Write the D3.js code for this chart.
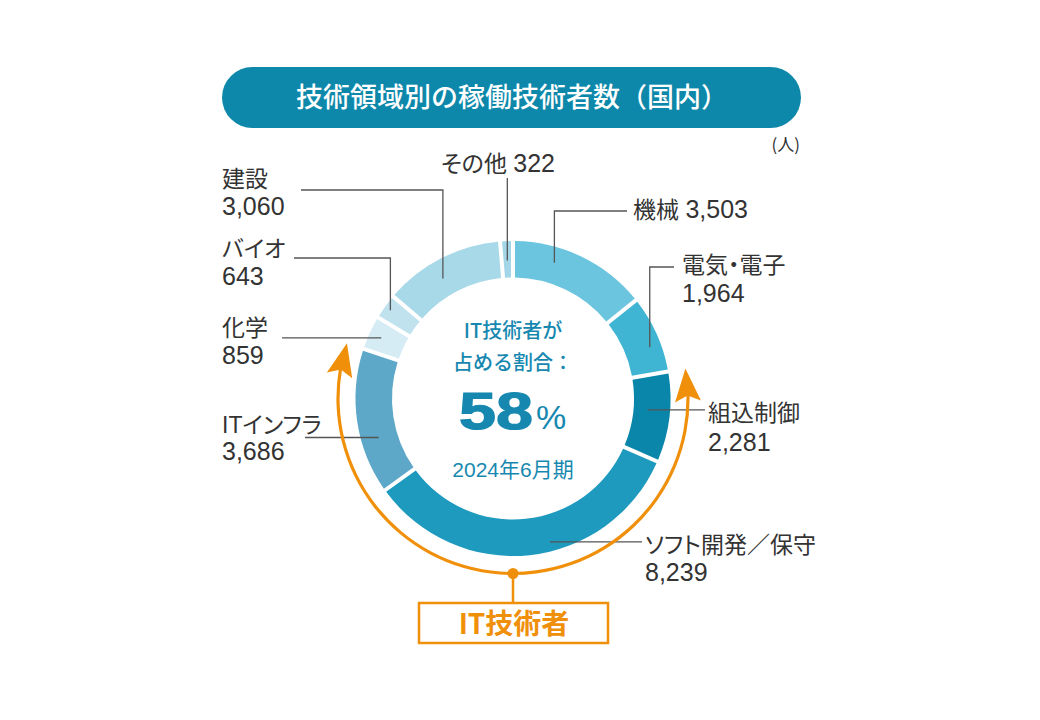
<!DOCTYPE html>
<html><head><meta charset="utf-8">
<script src="https://cdn.jsdelivr.net/npm/d3@7"></script>
<style>
html,body{margin:0;padding:0;background:#fff;}
svg{display:block;}
text{font-family:"Liberation Sans","Noto Sans CJK JP",sans-serif;}
.lbl{font-feature-settings:"palt";}
</style></head>
<body>
<svg id="chart" width="1040" height="720"></svg>
<script>
// ---- data ----
const categories = ["機械","電気・電子","組込制御","ソフト開発／保守","ITインフラ","化学","バイオ","建設","その他"];
const values = [3503,1964,2281,8239,3686,859,643,3060,322];
const itCategories = ["組込制御","ソフト開発／保守","ITインフラ"];
const title = "技術領域別の稼働技術者数（国内）";
const unitLabel = "(人)";
const centerLines = ["IT技術者が","占める割合："];
const centerPeriod = "2024年6月期";
const itLabel = "IT技術者";

// ---- styles ----
const segColors = ["#6cc5df","#40b5d3","#0a86aa","#1f9abf","#5da8c8","#d5ecf5","#bfe2ee","#a8d9e9","#a3d6e7"];
const color = d3.scaleOrdinal(categories, segColors);
const teal = "#0e88aa", textTeal = "#1688b0", orange = "#f0900a", labelColor = "#333", leaderColor = "#555";

const svg = d3.select("#chart");
const cx = 513, cy = 398.5, rOuter = 157.5, rInner = 121, rOrange = 175;
const polar = (a, r) => [cx + r * Math.sin(a), cy - r * Math.cos(a)];

const data = categories.map((c, i) => ({cat: c, value: values[i]}));
const total = d3.sum(values);
const itTotal = d3.sum(data.filter(d => itCategories.includes(d.cat)), d => d.value);

// title pill
svg.append("rect").attr("x", 222).attr("y", 67).attr("width", 579).attr("height", 61)
  .attr("rx", 30.5).attr("fill", teal);
svg.append("text").attr("x", 512).attr("y", 107).attr("text-anchor", "middle")
  .attr("fill", "#fff").attr("font-size", 27).attr("font-weight", 500)
  .style("font-family", "'Noto Sans CJK JP',sans-serif").text(title);
svg.append("text").attr("x", 800).attr("y", 151).attr("text-anchor", "end")
  .attr("fill", labelColor).attr("font-size", 17)
  .style("font-family", "'Noto Sans CJK JP',sans-serif").text(unitLabel);

// donut
const pie = d3.pie().sort(null).value(d => d.value).startAngle(0).endAngle(2 * Math.PI);
const arcs = pie(data);
const arcGen = d3.arc().innerRadius(rInner).outerRadius(rOuter).padAngle(0.02);
const g = svg.append("g").attr("transform", `translate(${cx},${cy})`);
g.selectAll("path.seg").data(arcs).join("path").attr("class", "seg")
  .attr("d", arcGen).attr("fill", d => color(d.data.cat));

// leader lines & labels (layout only)
const layout = {
  "その他":        {t:0.5,  r:138, type:"v",  y:178,            lx:498, anchor:"middle", ly:[172], one:true},
  "機械":          {t:0.33, r:142, type:"vh", y:211, x:627,     lx:633, ly:[218], one:true},
  "電気・電子":    {t:0.63, r:146, type:"vh", y:267, x:674,     lx:682, ly:[273, 302]},
  "組込制御":      {t:0.44, r:135, type:"h",  x:705,            lx:708, ly:[421, 451]},
  "ソフト開発／保守":{t:0.43, r:148, type:"h", x:642,            lx:645, ly:[553, 581]},
  "ITインフラ":    {t:0.36, r:140, type:"h",  x:305,            lx:222, ly:[433, 460]},
  "化学":          {t:0.5,  r:145, type:"h",  x:282,            lx:222, ly:[336, 364]},
  "バイオ":        {t:0.5,  r:151, type:"vh", y:258, x:294,     lx:222, ly:[257, 285]},
  "建設":          {t:0.43, r:139, type:"vh", y:190, x:301,     lx:222, ly:[187, 215]}
};
const fmt = d3.format(",");
const nameSize = 23, numSize = 25;
arcs.forEach(a => {
  const L = layout[a.data.cat];
  const ang = a.startAngle + (a.endAngle - a.startAngle) * L.t;
  const p = polar(ang, L.r);
  let pts;
  if (L.type === "v") pts = [p, [p[0], L.y]];
  else if (L.type === "vh") pts = [p, [p[0], L.y], [L.x, L.y]];
  else pts = [p, [L.x, p[1]]];
  svg.append("path").attr("d", d3.line()(pts)).attr("fill", "none")
    .attr("stroke", leaderColor).attr("stroke-width", 1.3);
  if (L.one) {
    const t = svg.append("text").attr("class", "lbl").attr("x", L.lx).attr("y", L.ly[0])
      .attr("text-anchor", L.anchor || "start").attr("fill", labelColor);
    t.append("tspan").attr("font-size", nameSize).text(a.data.cat + " ");
    t.append("tspan").attr("font-size", numSize).text(fmt(a.data.value));
  } else {
    svg.append("text").attr("class", "lbl").attr("x", L.lx).attr("y", L.ly[0])
      .attr("fill", labelColor).attr("font-size", nameSize).text(a.data.cat);
    svg.append("text").attr("x", L.lx).attr("y", L.ly[1])
      .attr("fill", labelColor).attr("font-size", numSize).text(fmt(a.data.value));
  }
});

// center text
centerLines.forEach((s, i) => {
  svg.append("text").attr("x", 513).attr("y", 338 + i * 32).attr("text-anchor", "middle")
    .attr("fill", textTeal).attr("font-size", 20).attr("font-weight", 500)
    .style("font-family", "'Noto Sans CJK JP',sans-serif").text(s);
});
const pct = Math.round(itTotal / total * 100);
svg.append("text").attr("x", 459).attr("y", 429).attr("fill", textTeal)
  .attr("font-size", 51).attr("font-weight", 700).attr("stroke", textTeal).attr("stroke-width", 1.2)
  .attr("textLength", 74).attr("lengthAdjust", "spacingAndGlyphs").text(String(pct));
svg.append("text").attr("x", 536).attr("y", 429).attr("fill", textTeal)
  .attr("font-size", 34).text("%");
svg.append("text").attr("x", 513).attr("y", 477).attr("text-anchor", "middle")
  .attr("fill", textTeal).attr("font-size", 21).text(centerPeriod);

// orange IT arc with arrows
const itArcs = arcs.filter(d => itCategories.includes(d.data.cat));
const a0 = d3.min(itArcs, d => d.startAngle), a1 = d3.max(itArcs, d => d.endAngle);
const headLen = 33, headHalf = 13;
const dA = headLen / rOrange;
svg.append("path")
  .attr("d", d3.arc().innerRadius(rOrange - 1.6).outerRadius(rOrange + 1.6)
    .startAngle(a0 + dA * 0.8).endAngle(a1 - dA * 0.8)())
  .attr("transform", `translate(${cx},${cy})`).attr("fill", orange);
function arrowHead(tipA, baseA) {
  const tip = polar(tipA, rOrange), base = polar(baseA, rOrange);
  const dx = tip[0] - base[0], dy = tip[1] - base[1], len = Math.hypot(dx, dy);
  const ux = dx / len, uy = dy / len, px = -uy, py = ux;
  const pts = [tip,
    [base[0] + px * headHalf, base[1] + py * headHalf],
    [base[0] + ux * 6, base[1] + uy * 6],
    [base[0] - px * headHalf, base[1] - py * headHalf]];
  svg.append("path").attr("d", d3.line()(pts) + "Z").attr("fill", orange);
}
arrowHead(a1, a1 - dA);
arrowHead(a0, a0 + dA);
const bottom = polar(Math.PI, rOrange);
svg.append("line").attr("x1", bottom[0]).attr("y1", bottom[1]).attr("x2", bottom[0]).attr("y2", 603)
  .attr("stroke", orange).attr("stroke-width", 2.5);
svg.append("circle").attr("cx", bottom[0]).attr("cy", bottom[1]).attr("r", 5.5).attr("fill", orange);
svg.append("rect").attr("x", 419).attr("y", 603).attr("width", 189).attr("height", 40)
  .attr("fill", "#fff").attr("stroke", orange).attr("stroke-width", 2.5);
svg.append("text").attr("x", 514).attr("y", 634).attr("text-anchor", "middle")
  .attr("fill", orange).attr("font-size", 28).attr("font-weight", 700)
  .style("font-family", "'Noto Sans CJK JP',sans-serif").text(itLabel);
</script>
</body></html>
